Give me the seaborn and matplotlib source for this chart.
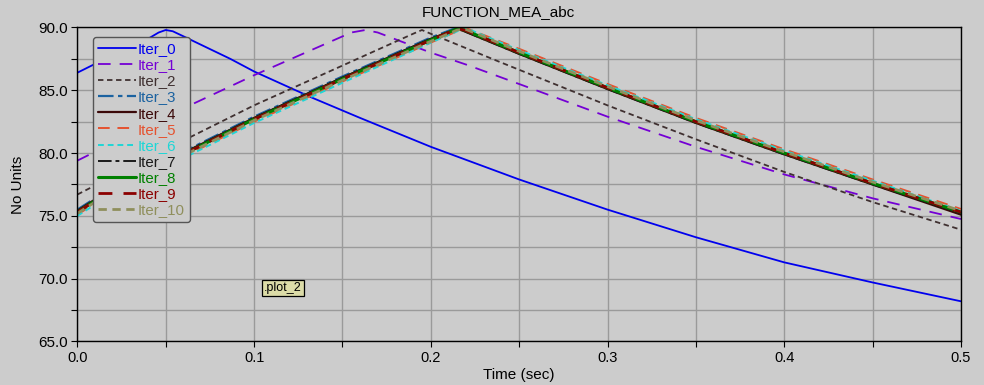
import pandas as pd
import matplotlib
matplotlib.use('Agg')
import matplotlib.pyplot as plt
from matplotlib.ticker import MultipleLocator
import seaborn as sns

# --- data ---
t_iter0 = [0.0, 0.01, 0.02, 0.03, 0.04, 0.046, 0.05, 0.054, 0.06, 0.0866, 0.1, 0.133, 0.16, 0.2, 0.25, 0.3, 0.35, 0.4, 0.45, 0.5]
v_iter0 = [86.4, 87.1, 87.7, 88.4, 89.1, 89.6, 89.8, 89.7, 89.3, 87.5, 86.5, 84.4, 82.8, 80.5, 77.9, 75.5, 73.3, 71.3, 69.7, 68.2]

t_iter1 = [0.0, 0.05, 0.1, 0.134, 0.155, 0.163, 0.17, 0.183, 0.2, 0.221, 0.25, 0.3, 0.35, 0.4, 0.45, 0.5]
v_iter1 = [79.4, 82.9, 86.2, 88.3, 89.6, 89.8, 89.6, 88.9, 88.0, 87.0, 85.5, 82.9, 80.5, 78.3, 76.4, 74.75]

t_iter2 = [0.0, 0.05, 0.1, 0.16, 0.19, 0.195, 0.2, 0.24, 0.3, 0.35, 0.4, 0.45, 0.5]
v_iter2 = [76.7, 80.3, 83.8, 87.6, 89.5, 89.8, 89.5, 87.2, 83.8, 81.1, 78.5, 76.1, 73.9]

# Iter_3 .. Iter_10 nearly overlap
t_bundle = [0.0, 0.01, 0.025, 0.05, 0.1, 0.15, 0.2, 0.215, 0.219, 0.25, 0.3, 0.35, 0.4, 0.45, 0.5]
v_iter3 = [75.5, 76.4, 77.5, 79.4, 82.9, 86.1, 89.2, 90.0, 89.8, 88.0, 85.2, 82.5, 80.0, 77.6, 75.2]
v_iter4 = [75.4, 76.3, 77.4, 79.3, 82.8, 86.0, 89.1, 89.9, 89.7, 87.9, 85.1, 82.4, 79.9, 77.5, 75.1]
v_iter5 = [75.1, 76.0, 77.1, 79.0, 82.5, 85.7, 88.8, 89.7, 90.0, 88.3, 85.5, 82.8, 80.3, 77.9, 75.55]
v_iter6 = [75.0, 75.9, 77.0, 78.9, 82.4, 85.6, 88.8, 89.7, 90.0, 88.2, 85.4, 82.7, 80.2, 77.8, 75.4]
v_iter7 = [75.4, 76.3, 77.4, 79.3, 82.8, 86.0, 89.1, 89.9, 89.7, 87.9, 85.1, 82.4, 79.9, 77.5, 75.2]
v_iter8 = [75.3, 76.2, 77.3, 79.2, 82.7, 85.9, 89.0, 89.9, 89.8, 88.0, 85.2, 82.5, 80.0, 77.6, 75.3]
v_iter9 = [75.3, 76.2, 77.3, 79.2, 82.7, 85.9, 89.0, 89.9, 89.8, 88.0, 85.2, 82.5, 80.0, 77.6, 75.3]
v_iter10 = [75.2, 76.1, 77.2, 79.1, 82.6, 85.8, 88.9, 89.8, 89.9, 88.1, 85.3, 82.6, 80.1, 77.7, 75.4]

labels = ['Iter_0', 'Iter_1', 'Iter_2', 'Iter_3', 'Iter_4', 'Iter_5',
          'Iter_6', 'Iter_7', 'Iter_8', 'Iter_9', 'Iter_10']
times = [t_iter0, t_iter1, t_iter2] + [t_bundle] * 8
values = [v_iter0, v_iter1, v_iter2, v_iter3, v_iter4, v_iter5,
          v_iter6, v_iter7, v_iter8, v_iter9, v_iter10]

colors = ['#0000ee', '#7400d4', '#3f3030', '#1b62a0', '#3a0808', '#e5522f',
          '#1ed6d6', '#1a1a1a', '#008000', '#8b0000', '#8f8f5c']
styles = ['-', (0, (7, 5)), (0, (3, 2)), (0, (7, 2, 2, 2)), '-', (0, (6, 4)),
          (0, (3, 2)), (0, (7, 2, 2, 2)), '-', (0, (5, 4)), (0, (3, 2))]
widths = [1.3, 1.3, 1.3, 1.6, 1.6, 1.4, 1.4, 1.4, 2.2, 2.0, 2.0]

# --- plot ---
bg = '#cccccc'
sns.set_style('whitegrid')
plt.rcParams['font.family'] = ['Liberation Sans', 'DejaVu Sans']

fig = plt.figure(figsize=(9.84, 3.85), dpi=100, facecolor=bg)
ax = fig.add_axes([0.0786, 0.113, 0.898, 0.8156])
ax.set_facecolor(bg)

for lab, t, v, c, ls, lw in zip(labels, times, values, colors, styles, widths):
    df = pd.DataFrame({'time': t, 'value': v})
    sns.lineplot(data=df, x='time', y='value', ax=ax, color=c, linestyle=ls,
                 linewidth=lw, label=lab, estimator=None, sort=False)

ax.set_xlim(0, 0.5)
ax.set_ylim(65, 90)
ax.xaxis.set_major_locator(MultipleLocator(0.1))
ax.xaxis.set_minor_locator(MultipleLocator(0.05))
ax.yaxis.set_major_locator(MultipleLocator(5))
ax.yaxis.set_minor_locator(MultipleLocator(2.5))
ax.xaxis.set_major_formatter(matplotlib.ticker.FormatStrFormatter('%.1f'))
ax.yaxis.set_major_formatter(matplotlib.ticker.FormatStrFormatter('%.1f'))

ax.grid(True, which='both', color='#9a9a9a', linewidth=1.0)
ax.set_axisbelow(True)
for s in ax.spines.values():
    s.set_color('black')
    s.set_linewidth(1.0)
    s.set_visible(True)

ax.tick_params(which='both', direction='out', length=4, width=0.8, color='black',
               bottom=True, left=True)
ax.tick_params(axis='x', labelsize=10.5, pad=3, labelcolor='black')
ax.tick_params(axis='y', labelsize=11, pad=3, labelcolor='black')

ax.set_xlabel('Time (sec)', fontsize=11, color='black', labelpad=2)
ax.set_ylabel('No Units', fontsize=11, color='black', labelpad=9)
fig.text(0.506, 0.968, 'FUNCTION_MEA_abc', ha='center', va='center',
         fontsize=11, color='black')

leg = ax.legend(loc='upper left', bbox_to_anchor=(0.018, 0.97), fontsize=10.8,
                frameon=True, fancybox=True, facecolor=bg, edgecolor='#555555',
                framealpha=1, handlelength=2.5, handletextpad=0.1,
                labelspacing=0.14, borderpad=0.35, borderaxespad=0)
for txt, line in zip(leg.get_texts(), leg.get_lines()):
    txt.set_color(line.get_color())

ax.text(0.233, 0.17, '.plot_2', transform=ax.transAxes, ha='center', va='center',
        fontsize=9, color='black',
        bbox=dict(boxstyle='square,pad=0.15', facecolor='#dcdca8', edgecolor='black', linewidth=0.9))

fig.savefig('out.png', dpi=100, facecolor=bg)
